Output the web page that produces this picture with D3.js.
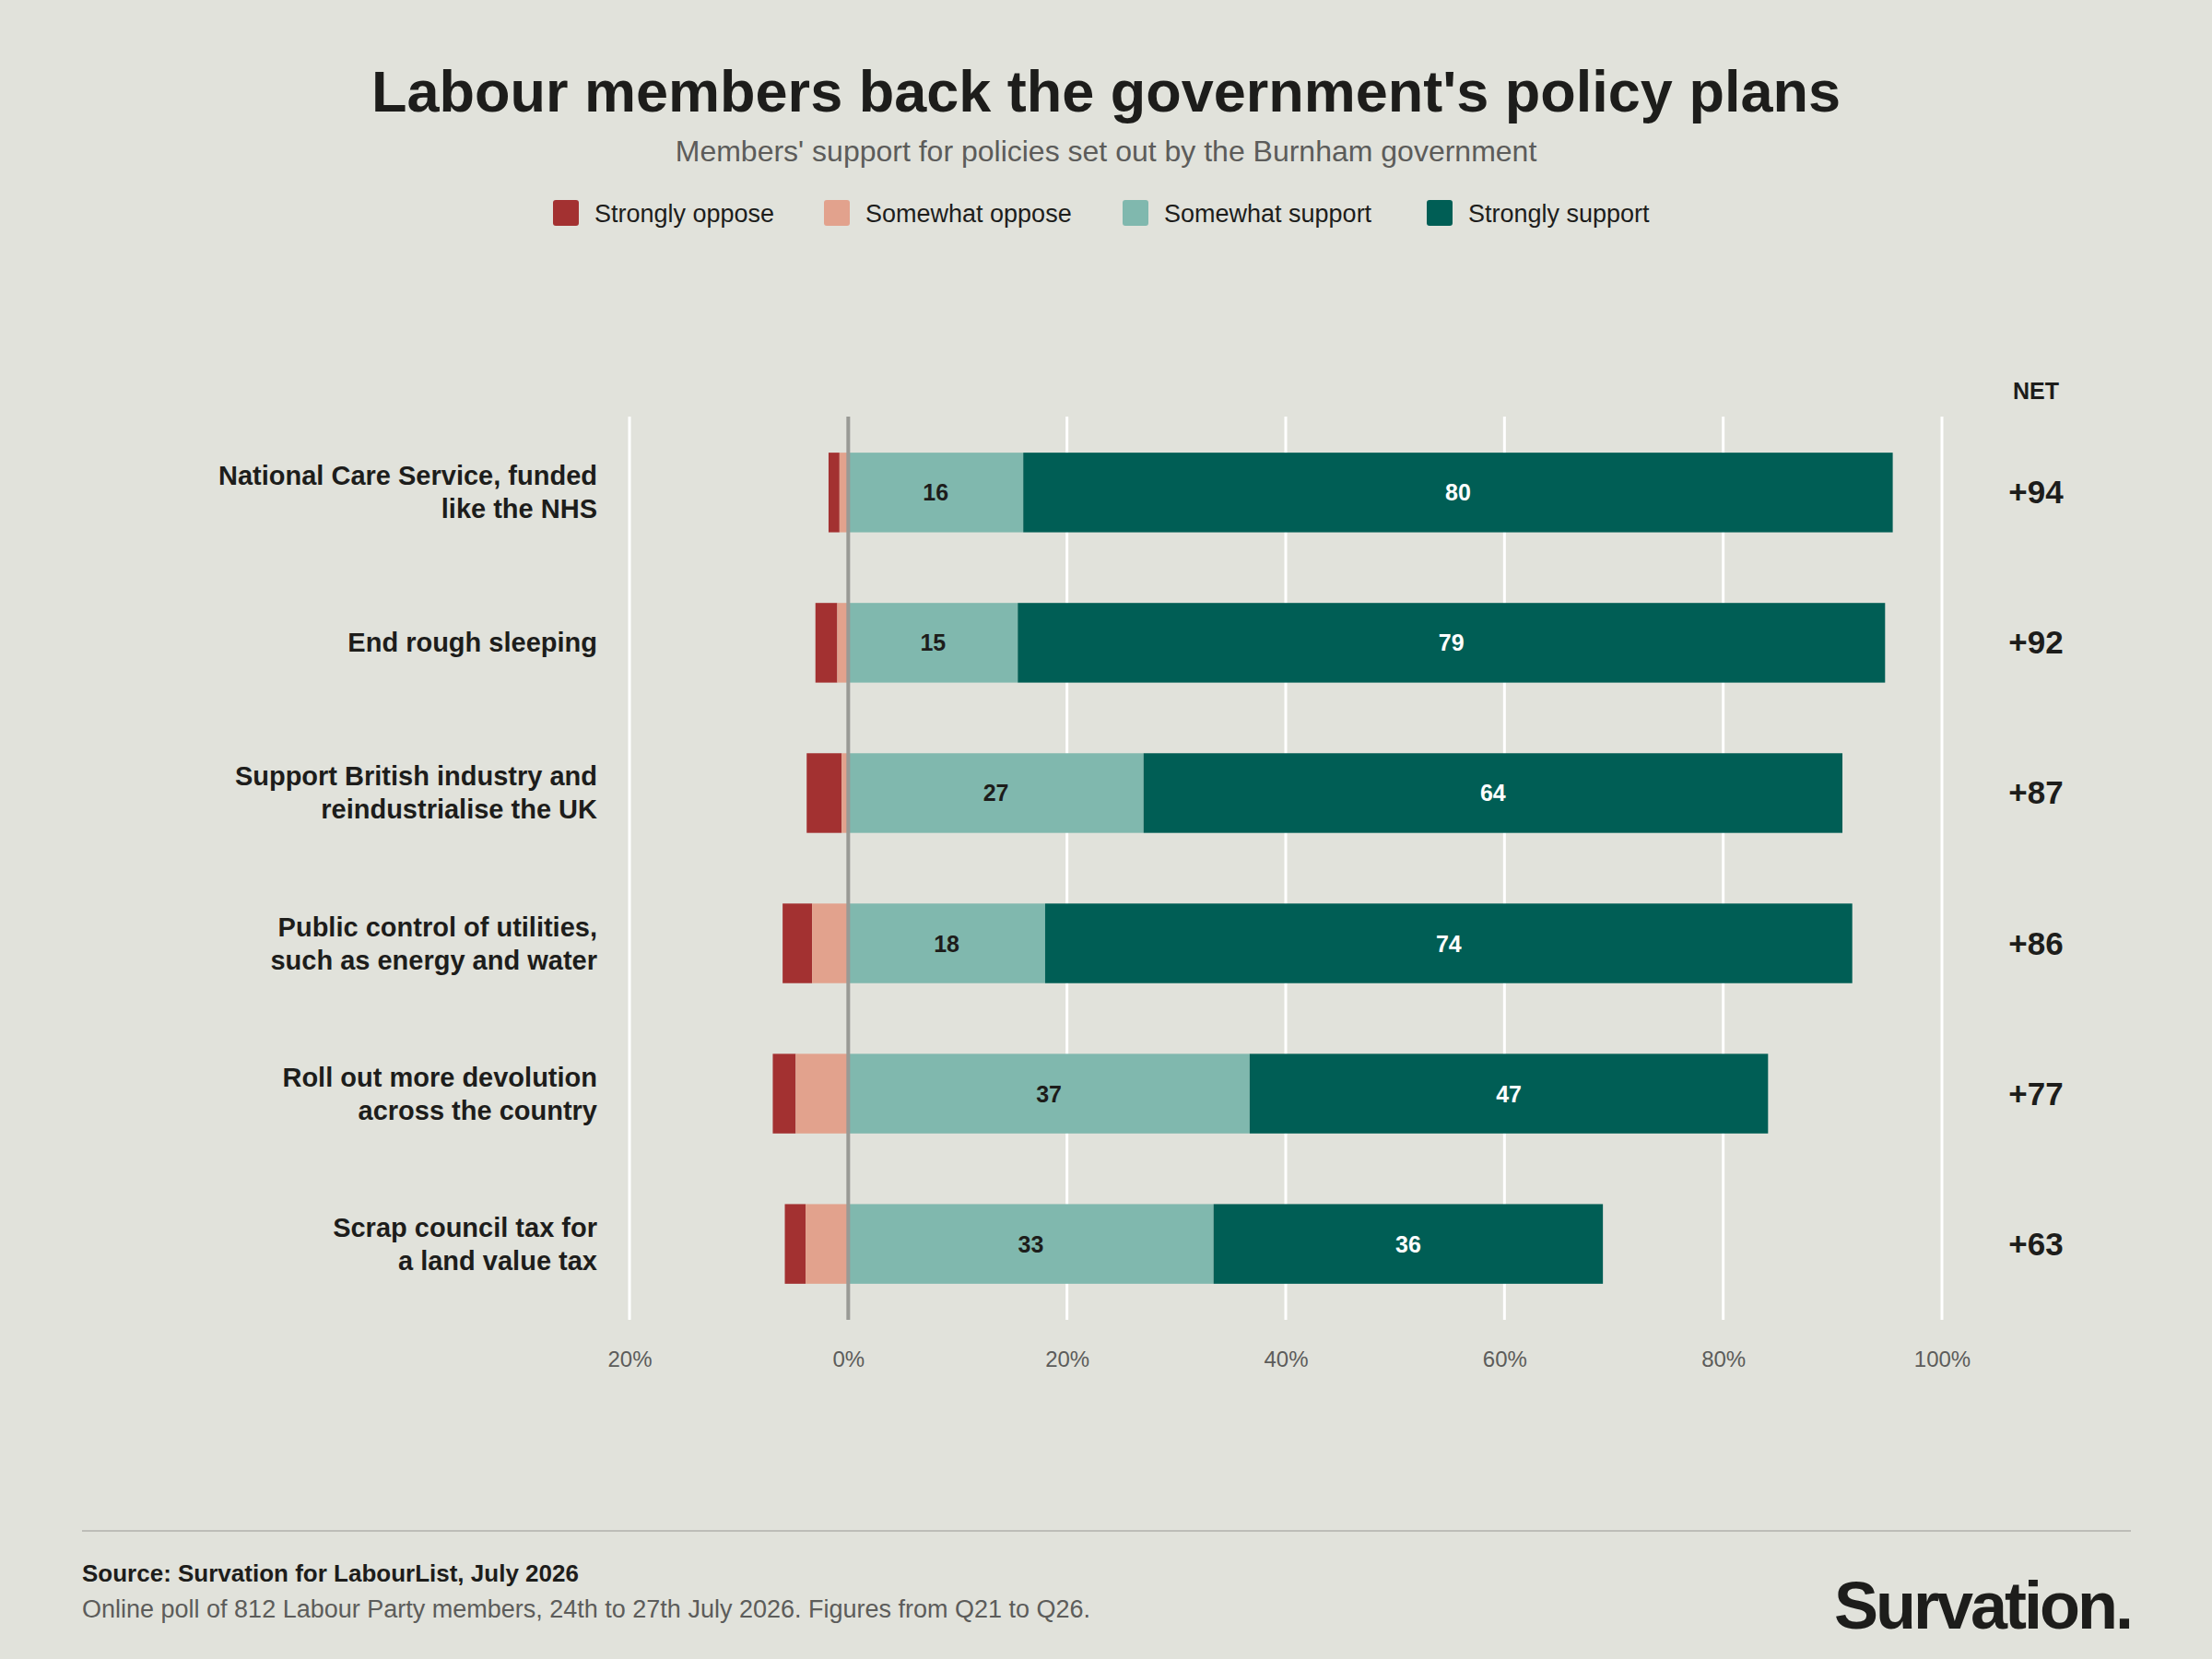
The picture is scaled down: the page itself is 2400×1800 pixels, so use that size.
<!DOCTYPE html>
<html><head><meta charset="utf-8">
<script src="https://cdn.jsdelivr.net/npm/d3@7"></script>
<style>
body{margin:0;background:#e1e2db;}
svg{font-family:"Liberation Sans",Arial,sans-serif;display:block;}
</style></head><body>
<script>
const policies = [
  ['National Care Service, funded', 'like the NHS'],
  ['End rough sleeping'],
  ['Support British industry and', 'reindustrialise the UK'],
  ['Public control of utilities,', 'such as energy and water'],
  ['Roll out more devolution', 'across the country'],
  ['Scrap council tax for', 'a land value tax']
]
const stronglyOppose = [1.0, 2.0, 3.2, 2.7, 2.1, 1.9]
const somewhatOppose = [0.8, 1.0, 0.6, 3.3, 4.8, 3.9]
const somewhatSupport = [16, 15.5, 27, 18, 36.7, 33.4]
const stronglySupport = [79.5, 79.3, 63.9, 73.8, 47.4, 35.6]
const supportLabels = [[16, 80], [15, 79], [27, 64], [18, 74], [37, 47], [33, 36]]
const netLabels = ['+94', '+92', '+87', '+86', '+77', '+63']
const ticks = [-20, 0, 20, 40, 60, 80, 100]
const legendItems = ['Strongly oppose', 'Somewhat oppose', 'Somewhat support', 'Strongly support']
const colors = ['#a33131', '#e2a28d', '#80b8ae', '#005e55']

const W = 2400, H = 1800
const svg = d3.select('body').append('svg').attr('width', W).attr('height', H)
svg.append('rect').attr('width', W).attr('height', H).attr('fill', '#e1e2db')

svg.append('text').attr('x', W / 2).attr('y', 121).attr('text-anchor', 'middle')
  .attr('font-size', 63).attr('font-weight', 700).attr('fill', '#1d1d1b')
  .text("Labour members back the government's policy plans")
svg.append('text').attr('x', W / 2).attr('y', 175).attr('text-anchor', 'middle')
  .attr('font-size', 32).attr('fill', '#5c5c5a')
  .text("Members' support for policies set out by the Burnham government")

// legend
const lg = svg.append('g')
const itemW = [294, 324, 330, 280]
let lx = 600
legendItems.forEach((t, i) => {
  lg.append('rect').attr('x', lx).attr('y', 217).attr('width', 28).attr('height', 28).attr('rx', 3).attr('fill', colors[i])
  lg.append('text').attr('x', lx + 45).attr('y', 241).attr('font-size', 27).attr('fill', '#1d1d1b').text(t)
  lx += itemW[i]
})

const x = d3.scaleLinear().domain([-20, 100]).range([683, 2107])
const y = d3.scaleBand().domain(d3.range(policies.length)).range([452, 1432]).paddingInner(0.47).paddingOuter(0.24)

const g = svg.append('g')
g.selectAll('.grid').data(ticks.filter(t => t !== 0)).join('line')
  .attr('x1', d => x(d)).attr('x2', d => x(d)).attr('y1', 452).attr('y2', 1432)
  .attr('stroke', '#ffffff').attr('stroke-width', 3)

g.append('g').attr('transform', 'translate(0,1463)')
  .call(d3.axisBottom(x).tickValues(ticks).tickSize(0).tickFormat(d => Math.abs(d) + '%'))
  .call(a => a.select('.domain').remove())
  .selectAll('text').attr('font-size', 24).attr('fill', '#5c5c5a').attr('font-family', '"Liberation Sans",Arial,sans-serif')

policies.forEach((p, i) => {
  const yy = y(i), bh = y.bandwidth()
  const segs = [
    [-stronglyOppose[i] - somewhatOppose[i], -somewhatOppose[i], colors[0]],
    [-somewhatOppose[i], 0, colors[1]],
    [0, somewhatSupport[i], colors[2]],
    [somewhatSupport[i], somewhatSupport[i] + stronglySupport[i], colors[3]]
  ]
  segs.forEach(s => g.append('rect').attr('x', x(s[0])).attr('y', yy)
    .attr('width', x(s[1]) - x(s[0])).attr('height', bh).attr('fill', s[2]))
  const cy = yy + bh / 2
  g.append('text').attr('x', x(somewhatSupport[i] / 2)).attr('y', cy + 9).attr('text-anchor', 'middle')
    .attr('font-size', 25).attr('font-weight', 700).attr('fill', '#1d1d1b').text(supportLabels[i][0])
  g.append('text').attr('x', x(somewhatSupport[i] + stronglySupport[i] / 2)).attr('y', cy + 9).attr('text-anchor', 'middle')
    .attr('font-size', 25).attr('font-weight', 700).attr('fill', '#ffffff').text(supportLabels[i][1])
  const lab = g.append('text').attr('x', 648).attr('text-anchor', 'end')
    .attr('font-size', 29).attr('font-weight', 700).attr('fill', '#1d1d1b')
  const off = (p.length - 1) * 18
  p.forEach((line, k) => lab.append('tspan').attr('x', 648).attr('y', cy + 10 - off + k * 36).text(line))
  g.append('text').attr('x', 2209).attr('y', cy + 12).attr('text-anchor', 'middle')
    .attr('font-size', 35).attr('font-weight', 700).attr('fill', '#1d1d1b').text(netLabels[i])
})

g.append('line').attr('x1', x(0)).attr('x2', x(0)).attr('y1', 452).attr('y2', 1432)
  .attr('stroke', '#999a95').attr('stroke-width', 4)

svg.append('text').attr('x', 2209).attr('y', 433).attr('text-anchor', 'middle')
  .attr('font-size', 25).attr('font-weight', 700).attr('fill', '#1d1d1b').text('NET')

// footer
svg.append('line').attr('x1', 89).attr('x2', 2312).attr('y1', 1661).attr('y2', 1661).attr('stroke', '#bdbdb8').attr('stroke-width', 2)
svg.append('text').attr('x', 89).attr('y', 1716).attr('font-size', 26).attr('font-weight', 700).attr('fill', '#1d1d1b')
  .text('Source: Survation for LabourList, July 2026')
svg.append('text').attr('x', 89).attr('y', 1755).attr('font-size', 27).attr('fill', '#5c5c5a')
  .text('Online poll of 812 Labour Party members, 24th to 27th July 2026. Figures from Q21 to Q26.')
svg.append('text').attr('x', 2312).attr('y', 1767).attr('text-anchor', 'end')
  .attr('font-size', 72).attr('font-weight', 700).attr('letter-spacing', -3).attr('fill', '#1d1d1b').text('Survation.')
</script>
</body></html>
